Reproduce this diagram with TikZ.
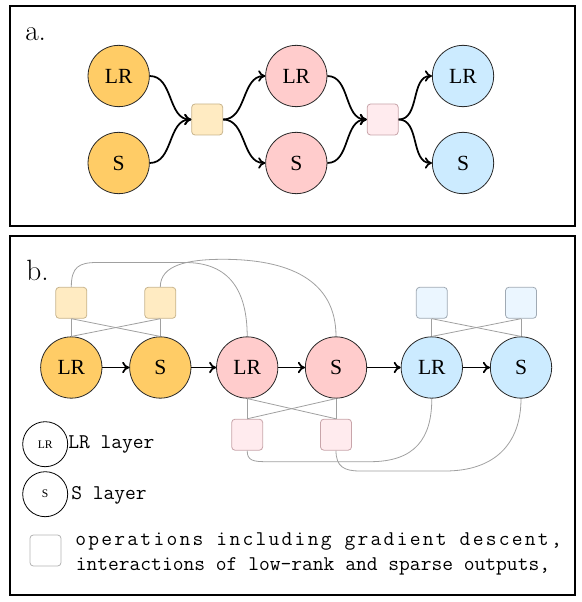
\documentclass[tikz,border=0pt]{standalone}
\usepackage{fontspec}
\newfontfamily\serifT{Liberation Serif}
\newfontfamily\monof{Latin Modern Mono}
\newfontfamily\monols{Latin Modern Mono}[LetterSpace=10.8]
\usetikzlibrary{arrows.meta}
\definecolor{orangeC}{RGB}{255,204,102}
\definecolor{pinkC}{RGB}{255,204,204}
\definecolor{blueC}{RGB}{204,235,255}
\definecolor{yelSq}{RGB}{255,235,194}
\definecolor{yelSqD}{RGB}{200,180,140}
\definecolor{pinkSq}{RGB}{255,235,238}
\definecolor{pinkSqD}{RGB}{200,165,170}
\definecolor{blueSq}{RGB}{235,246,255}
\definecolor{blueSqD}{RGB}{160,170,180}
\definecolor{thinG}{RGB}{160,160,160}
\definecolor{circD}{RGB}{40,40,40}
\definecolor{legSqD}{RGB}{180,180,180}
\begin{document}
\begin{tikzpicture}[x=0.75pt,y=0.75pt,
  lay/.style={circle, draw=circD, line width=0.6pt, minimum size=46pt, inner sep=0pt,
    font=\serifT\fontsize{16.2}{18}\selectfont},
  layO/.style={lay, fill=orangeC},
  layP/.style={lay, fill=pinkC},
  layB/.style={lay, fill=blueC},
  opq/.style={rectangle, rounded corners=2.5pt, line width=0.6pt, minimum size=23.25pt, inner sep=0pt},
  opY/.style={opq, fill=yelSq, draw=yelSqD},
  opP/.style={opq, fill=pinkSq, draw=pinkSqD},
  opB/.style={opq, fill=blueSq, draw=blueSqD},
  arr/.style={line width=1.3pt, draw=black, -{Computer Modern Rightarrow[length=5.3pt,width=8.5pt]}},
  thin/.style={draw=thinG, line width=0.6pt},
  frame/.style={line width=1.5pt, draw=black},
  panel/.style={anchor=base west, inner sep=0pt, font=\fontsize{22}{24}\selectfont},
  legc/.style={circle, draw=black, line width=0.6pt, fill=white, minimum size=33.75pt, inner sep=0pt,
    font=\serifT\fontsize{8.7}{10}\selectfont},
  legt/.style={anchor=base west, inner sep=0pt, font=\monof\fontsize{15.7}{18}\selectfont},
  legt1/.style={anchor=base west, inner sep=0pt, font=\monols\fontsize{15.7}{18}\selectfont}
]
\useasboundingbox (0,0) rectangle (581,-602);

% frames
\draw[frame] (10,-6) rectangle (574.5,-226);
\draw[frame] (10,-236) rectangle (574.5,-594.5);

% ---------- panel a ----------
\node[panel] (la) at (25,-40.7) {a.};
\node[layO] (a1L) at (118.7,-76) {LR};
\node[layO] (a1S) at (118.7,-163) {S};
\node[opY]  (aq1) at (207.2,-119.5) {};
\node[layP] (a2L) at (296.3,-76) {LR};
\node[layP] (a2S) at (296.3,-163) {S};
\node[opP]  (aq2) at (382.7,-119.5) {};
\node[layB] (a3L) at (463,-76) {LR};
\node[layB] (a3S) at (463,-163) {S};

\draw[arr] (a1L.east) to[out=0,in=180] (aq1.west);
\draw[arr] (a1S.east) to[out=0,in=180] (aq1.west);
\draw[arr] (aq1.east) to[out=0,in=180] (a2L.west);
\draw[arr] (aq1.east) to[out=0,in=180] (a2S.west);
\draw[arr] (a2L.east) to[out=0,in=180] (aq2.west);
\draw[arr] (a2S.east) to[out=0,in=180] (aq2.west);
\draw[arr] (aq2.east) to[out=0,in=180] (a3L.west);
\draw[arr] (aq2.east) to[out=0,in=180] (a3S.west);

% ---------- panel b ----------
\node[panel] (lb) at (26,-280) {b.};
\node[layO] (b1L) at (71.3,-367.5) {LR};
\node[layO] (b1S) at (160.3,-367.5) {S};
\node[layP] (b2L) at (247.2,-367.5) {LR};
\node[layP] (b2S) at (336,-367.5) {S};
\node[layB] (b3L) at (431.8,-367.5) {LR};
\node[layB] (b3S) at (521,-367.5) {S};

\node[opY] (t1) at (71.3,-302.8) {};
\node[opY] (t2) at (160.3,-302.8) {};
\node[opB] (t5) at (431.8,-302.8) {};
\node[opB] (t6) at (521,-302.8) {};
\node[opP] (u3) at (247.2,-434.7) {};
\node[opP] (u4) at (336,-434.7) {};

% thin links between squares and layers
\draw[thin] (t1.south) -- (b1L.north);
\draw[thin] (t1.south) -- (b1S.north);
\draw[thin] (t2.south) -- (b1L.north);
\draw[thin] (t2.south) -- (b1S.north);
\draw[thin] (t5.south) -- (b3L.north);
\draw[thin] (t5.south) -- (b3S.north);
\draw[thin] (t6.south) -- (b3L.north);
\draw[thin] (t6.south) -- (b3S.north);
\draw[thin] (b2L.south) -- (u3.north);
\draw[thin] (b2L.south) -- (u4.north);
\draw[thin] (b2S.south) -- (u3.north);
\draw[thin] (b2S.south) -- (u4.north);

% long curves
\coordinate (k1a) at (97,-262.5);
\coordinate (k1b) at (185,-262.5);
\draw[thin] (t1.north) .. controls +(0,20) and +(-18,0) .. (k1a) -- (k1b)
  .. controls +(45,0) and +(0,45) .. (b2L.north);
\coordinate (k2) at (223,-259.3);
\draw[thin] (t2.north) .. controls +(0,22) and +(-35,0) .. (k2)
  .. controls +(65,0) and +(0,57) .. (b2S.north);
\coordinate (k3a) at (267,-461.7);
\coordinate (k3b) at (370,-461.7);
\draw[thin] (u3.south) .. controls +(0,-10) and +(-14,0) .. (k3a) -- (k3b)
  .. controls +(45,0) and +(0,-40) .. (b3L.south);
\coordinate (k4a) at (360,-471);
\coordinate (k4b) at (445,-471);
\draw[thin] (u4.south) .. controls +(0,-16) and +(-16,0) .. (k4a) -- (k4b)
  .. controls +(50,0) and +(0,-45) .. (b3S.south);

% thick arrows
\draw[arr] (b1L) -- (b1S);
\draw[arr] (b1S) -- (b2L);
\draw[arr] (b2L) -- (b2S);
\draw[arr] (b2S) -- (b3L);
\draw[arr] (b3L) -- (b3S);

% ---------- legend ----------
\node[legc] (gL) at (45.2,-444.2) {LR};
\node[legt] (gLt) at (68,-448.3) {LR layer};
\node[legc] (gS) at (45.2,-494.2) {S};
\node[legt] (gSt) at (71,-499.3) {S layer};
\node[opq, fill=white, draw=legSqD] (gQ) at (45.5,-550.5) {};
\node[legt1] (gQt1) at (75,-545) {operations including gradient descent,};
\node[legt] (gQt2) at (75.5,-570) {interactions of low-rank and sparse outputs,};
\end{tikzpicture}
\end{document}
